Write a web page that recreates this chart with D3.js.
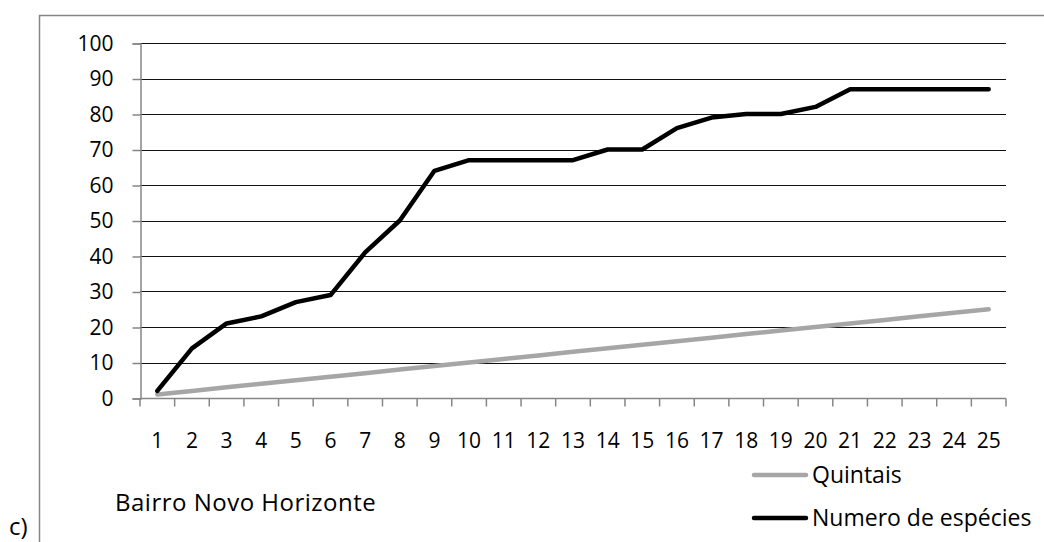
<!DOCTYPE html>
<html>
<head>
<meta charset="utf-8">
<script src="https://cdn.jsdelivr.net/npm/d3@7"></script>
<style>
  body { margin: 0; background: #fff; }
  text { font-family: "Open Sans", "Noto Sans", sans-serif; fill: #000; }
</style>
</head>
<body>
<div id="container"></div>
<script>
let w = 1044;
let h = 542;
let margin = { top: 43, right: 38, bottom: 144, left: 140 };

// data
let categories = d3.range(1, 26);
let quintais = [1, 2, 3, 4, 5, 6, 7, 8, 9, 10, 11, 12, 13, 14, 15, 16, 17, 18, 19, 20, 21, 22, 23, 24, 25];
let especies = [2, 14, 21, 23, 27, 29, 41, 50, 64, 67, 67, 67, 67, 70, 70, 76, 79, 80, 80, 82, 87, 87, 87, 87, 87];
let yTicks = [0, 10, 20, 30, 40, 50, 60, 70, 80, 90, 100];
let seriesNames = ['Quintais', 'Numero de espécies'];
let seriesColors = ['#A6A6A6', '#000000'];

let axisColor = '#868686';

let svg = d3.select('#container')
  .append('svg')
    .attr('width', w)
    .attr('height', h);

// outer frame
svg.append('rect')
  .attr('x', 39.5)
  .attr('y', 15.5)
  .attr('width', 1100)
  .attr('height', 600)
  .attr('fill', 'none')
  .attr('stroke', axisColor)
  .attr('stroke-width', 1.5);

let innerW = 1006 - margin.left;
let innerH = 398 - margin.top;

let x = d3.scaleBand()
  .domain(categories)
  .range([margin.left, margin.left + innerW]);

let y = d3.scaleLinear()
  .domain([0, 100])
  .range([margin.top + innerH, margin.top]);

// gridlines
svg.append('g')
  .selectAll('line')
  .data(yTicks.filter(d => d > 0))
  .enter()
  .append('line')
    .attr('x1', margin.left)
    .attr('x2', margin.left + innerW)
    .attr('y1', d => Math.round(y(d)) + 0.5)
    .attr('y2', d => Math.round(y(d)) + 0.5)
    .attr('stroke', '#111')
    .attr('stroke-width', 1);

// y axis
let yAxis = svg.append('g')
  .attr('transform', 'translate(' + (margin.left + 0.5) + ',0.5)')
  .call(d3.axisLeft(y).tickValues(yTicks).tickSize(8).tickPadding(19));
yAxis.selectAll('path, line').attr('stroke', axisColor).attr('stroke-width', 1.5);
yAxis.selectAll('text').style('font-size', '21px').attr('fill', '#000');

// x axis: ticks at category boundaries
let xAxisG = svg.append('g')
  .attr('transform', 'translate(0,' + (margin.top + innerH + 0.5) + ')');
xAxisG.append('line')
  .attr('x1', margin.left)
  .attr('x2', margin.left + innerW)
  .attr('stroke', axisColor)
  .attr('stroke-width', 1.5);
xAxisG.selectAll('.tick')
  .data(categories.concat([null]))
  .enter()
  .append('line')
    .attr('x1', (d, i) => margin.left + i * x.bandwidth())
    .attr('x2', (d, i) => margin.left + i * x.bandwidth())
    .attr('y1', 0)
    .attr('y2', 8)
    .attr('stroke', axisColor)
    .attr('stroke-width', 1.5);
xAxisG.selectAll('.lbl')
  .data(categories)
  .enter()
  .append('text')
    .attr('x', d => x(d) + x.bandwidth() / 2)
    .attr('y', 49.5)
    .attr('text-anchor', 'middle')
    .style('font-size', '21px')
    .text(d => d);

// lines
let line = d3.line()
  .x((d, i) => x(categories[i]) + x.bandwidth() / 2)
  .y(d => y(d));

[quintais, especies].forEach(function(series, k) {
  svg.append('path')
    .datum(series)
    .attr('d', line)
    .attr('fill', 'none')
    .attr('stroke', seriesColors[k])
    .attr('stroke-width', 4.5)
    .attr('stroke-linejoin', 'round')
    .attr('stroke-linecap', 'round');
});

// legend
let legend = svg.append('g');
seriesNames.forEach(function(name, k) {
  let ly = 475 + k * 43;
  legend.append('line')
    .attr('x1', 754)
    .attr('x2', 806)
    .attr('y1', ly)
    .attr('y2', ly)
    .attr('stroke', seriesColors[k])
    .attr('stroke-width', 4.5)
    .attr('stroke-linecap', 'round');
  legend.append('text')
    .attr('x', 812)
    .attr('y', ly + 8)
    .style('font-size', '23px')
    .text(name);
});

// chart title and panel label
svg.append('text')
  .attr('x', 115)
  .attr('y', 511)
  .style('font-size', '24px')
  .style('letter-spacing', '0.5px')
  .text('Bairro Novo Horizonte');

svg.append('text')
  .attr('x', 9)
  .attr('y', 535)
  .style('font-size', '24px')
  .text('c)');
</script>
</body>
</html>
